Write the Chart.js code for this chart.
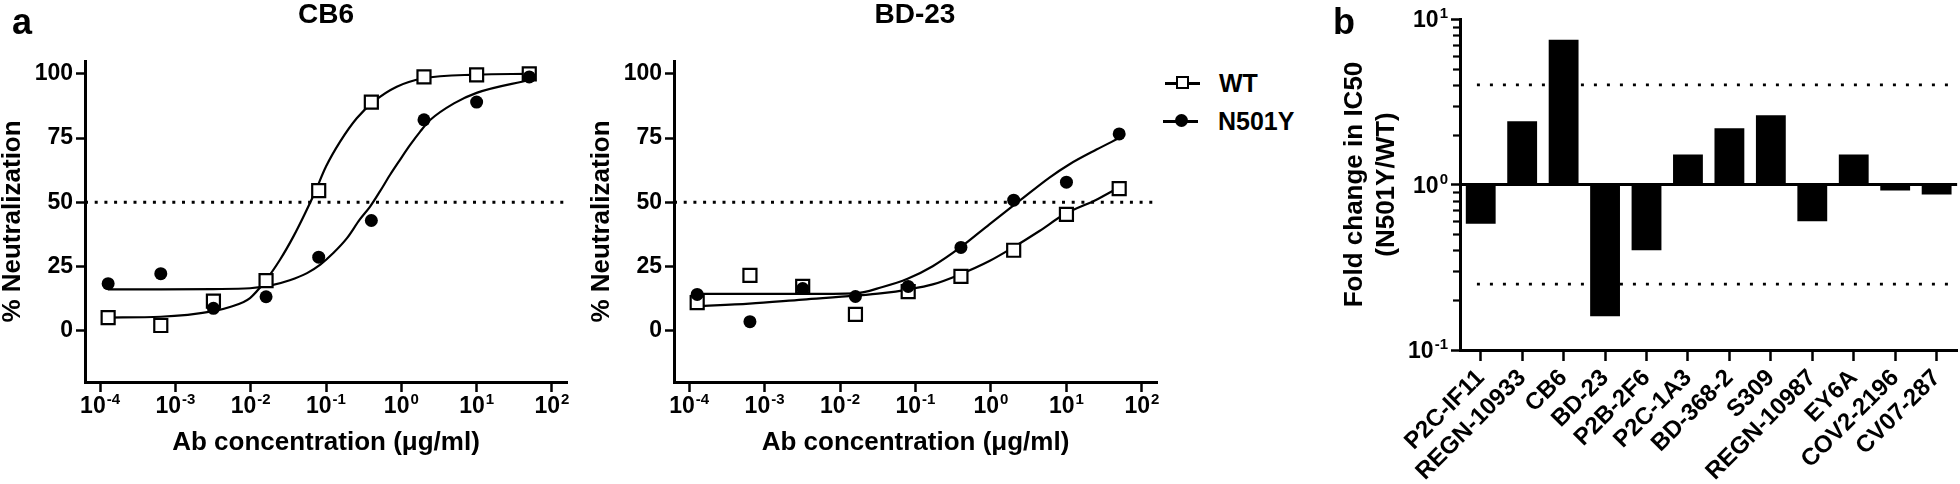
<!DOCTYPE html>
<html lang="en">
<head>
<meta charset="UTF-8">
<title>N501Y neutralization</title>
<script src="https://cdn.jsdelivr.net/npm/chart.js"></script>
<style>
  body { margin: 0; background: #fff; font-family: 'Liberation Sans', Arial, sans-serif; color: #000; }
  #page { position: relative; width: 1960px; height: 484px; overflow: hidden; }
  canvas { position: absolute; top: 0; }
  .lbl { position: absolute; font-weight: bold; white-space: nowrap; line-height: 1; }
  .panel { font-size: 36px; }
  .title { font-size: 28px; width: 200px; text-align: center; }
  .leg { font-size: 25px; }
  .legline { position: absolute; height: 2.5px; background: #000; }
  .legsq { position: absolute; width: 13px; height: 13px; box-sizing: border-box; border: 2.2px solid #000; background: #fff; }
  .legdot { position: absolute; width: 13px; height: 13px; border-radius: 50%; background: #000; }
</style>
</head>
<body>
<div id="page">
  <canvas id="cb6" width="600" height="484" style="left:0"></canvas>
  <canvas id="bd23" width="580" height="484" style="left:580px"></canvas>
  <canvas id="fold" width="660" height="484" style="left:1300px"></canvas>

  <div class="lbl panel" style="left:12px; top:4px">a</div>
  <div class="lbl panel" style="left:1333px; top:4px">b</div>
  <div class="lbl title" style="left:226px; top:0">CB6</div>
  <div class="lbl title" style="left:815px; top:0">BD-23</div>

  <div class="legline" style="left:1165px; top:82px; width:35px"></div>
  <div class="legsq" style="left:1176px; top:76px"></div>
  <div class="lbl leg" style="left:1219px; top:71px">WT</div>
  <div class="legline" style="left:1163px; top:120px; width:35px"></div>
  <div class="legdot" style="left:1175px; top:114px"></div>
  <div class="lbl leg" style="left:1218px; top:109px">N501Y</div>
</div>

<script>
// ---- data ----
const concentrations = [0.000128, 0.00064, 0.0032, 0.016, 0.08, 0.4, 2, 10, 50];

const cb6WT     = [5.1, 2.0, 11.5, 19.5, 54.5, 89.0, 98.8, 99.6, 100];
const cb6N501Y  = [18.3, 22.2, 8.7, 13.2, 28.6, 42.9, 82.1, 89.0, 98.8];
const bd23WT    = [10.9, 21.5, 17.2, 6.3, 15.2, 21.1, 31.3, 45.3, 55.3];
const bd23N501Y = [14.1, 3.5, 16.4, 13.3, 17.2, 32.4, 50.8, 57.8, 76.6];

// fitted curves
const cb6WTCurveX = [0.000128, 0.00064, 0.0032, 0.0053, 0.0098, 0.0155, 0.0245, 0.037, 0.053, 0.072, 0.10, 0.154, 0.256, 0.43, 0.87, 1.93, 10, 50];
const cb6WTCurveY = [5.1, 5.4, 7.6, 9.2, 12.7, 19.2, 27.6, 36.7, 45.8, 54.2, 63.9, 73.6, 82.7, 89.2, 95.0, 98.2, 99.7, 100];
const cb6MutCurveX = [0.000128, 0.00064, 0.0032, 0.0098, 0.018, 0.033, 0.056, 0.084, 0.125, 0.19, 0.28, 0.385, 0.52, 0.71, 0.96, 1.31, 1.78, 2.41, 5, 10, 50];
const cb6MutCurveY = [16.1, 16.1, 16.2, 16.5, 17.5, 19.6, 22.4, 25.7, 30.2, 36.0, 43.2, 48.3, 54.2, 60.7, 66.5, 72.3, 77.5, 82.0, 88.5, 92.6, 97.6];
const bd23WTCurveX = [0.000128, 0.00063, 0.0032, 0.0158, 0.0366, 0.0785, 0.169, 0.389, 0.953, 1.94, 4.39, 9.4, 25, 50];
const bd23WTCurveY = [9.5, 10.5, 12.1, 13.6, 14.6, 16.0, 18.0, 21.9, 27.1, 32.3, 38.8, 45.3, 51.0, 55.8];
const bd23MutCurveX = [0.000128, 0.0032, 0.0158, 0.0366, 0.0785, 0.169, 0.389, 0.953, 2.38, 5.96, 11.0, 25, 50];
const bd23MutCurveY = [14.3, 14.3, 14.5, 17.0, 20.2, 25.1, 32.3, 41.4, 50.5, 59.6, 64.8, 70.5, 75.0];

const neutralRef = 50;
const neutralTicks = [0, 25, 50, 75, 100];
const decadeTicks = [1e-4, 1e-3, 1e-2, 1e-1, 1, 10, 100];

const antibodies = ['P2C-IF11', 'REGN-10933', 'CB6', 'BD-23', 'P2B-2F6', 'P2C-1A3', 'BD-368-2', 'S309', 'REGN-10987', 'EY6A', 'COV2-2196', 'CV07-287'];
const foldChange = [0.58, 2.41, 7.5, 0.16, 0.40, 1.52, 2.19, 2.62, 0.60, 1.52, 0.92, 0.87];
const foldBase = 1;
const foldThresholds = [4, 0.25];
const foldTicks = [0.1, 1, 10];
const foldMinorTicks = [0.2, 0.3, 0.4, 0.5, 0.6, 0.7, 0.8, 0.9, 2, 3, 4, 5, 6, 7, 8, 9];

// ---- drawing ----
const FONT = "'Liberation Sans', Arial, sans-serif";
Chart.defaults.font.family = FONT;
Chart.defaults.color = '#000';

const pts = (xs, ys) => xs.map((x, i) => ({ x: x, y: ys[i] }));

// "10^n" labels with a raised exponent
const powerLabels = {
  id: 'powerLabels',
  afterDraw(chart, args, opts) {
    const scale = chart.scales[opts.axis];
    const ctx = chart.ctx;
    ctx.save();
    ctx.fillStyle = '#000';
    ctx.textBaseline = 'alphabetic';
    scale.ticks.forEach(t => {
      const exp = String(Math.round(Math.log10(t.value)));
      const p = scale.getPixelForValue(t.value);
      ctx.font = 'bold 23px ' + FONT;
      const w1 = ctx.measureText('10').width;
      ctx.font = 'bold 15px ' + FONT;
      const w2 = ctx.measureText(exp).width;
      let x0, base;
      if (scale.isHorizontal()) {
        x0 = p - (w1 + w2 + 1) / 2;
        base = opts.baseline;
      } else {
        x0 = opts.right - (w1 + w2 + 1);
        base = p + 8;
      }
      ctx.font = 'bold 23px ' + FONT;
      ctx.fillText('10', x0, base);
      ctx.font = 'bold 15px ' + FONT;
      ctx.fillText(exp, x0 + w1 + 1, base - 9);
    });
    ctx.restore();
  }
};

const minorTicks = {
  id: 'minorTicks',
  afterDraw(chart) {
    const scale = chart.scales.y;
    const ctx = chart.ctx;
    ctx.save();
    ctx.strokeStyle = '#000';
    ctx.lineWidth = 2.2;
    foldMinorTicks.forEach(v => {
      const y = Math.round(scale.getPixelForValue(v)) + 0.5;
      ctx.beginPath();
      ctx.moveTo(scale.right - 7, y);
      ctx.lineTo(scale.right, y);
      ctx.stroke();
    });
    ctx.restore();
  }
};

function neutralChart(id, wt, mut, wtCurve, mutCurve, yAxisWidth, padRight, yTitlePad) {
  const xMin = Math.pow(10, -4.2), xMax = Math.pow(10, 2.2);
  const curve = d => ({
    data: d, showLine: true, pointRadius: 0, borderColor: '#000', borderWidth: 2.2,
    cubicInterpolationMode: 'monotone', order: 2
  });
  return new Chart(document.getElementById(id), {
    type: 'scatter',
    data: {
      datasets: [
        { data: pts(concentrations, mut), pointStyle: 'circle', pointRadius: 6.5,
          backgroundColor: '#000', borderWidth: 0, order: 0 },
        { data: pts(concentrations, wt), pointStyle: 'rect', pointRadius: 9.2,
          backgroundColor: '#fff', borderColor: '#000', borderWidth: 2.2, order: 1 },
        curve(wtCurve),
        curve(mutCurve),
        { data: [{ x: xMin, y: neutralRef }, { x: xMax, y: neutralRef }], showLine: true,
          pointRadius: 0, borderColor: '#000', borderWidth: 2.8, borderDash: [3, 6.7], order: 3 }
      ]
    },
    options: {
      responsive: false,
      animation: false,
      devicePixelRatio: 1,
      events: [],
      layout: { autoPadding: false, padding: { left: 0, top: 61, right: padRight, bottom: 0 } },
      plugins: { legend: { display: false }, tooltip: { enabled: false }, powerLabels: { axis: 'x', baseline: 413 } },
      scales: {
        x: {
          type: 'logarithmic', min: xMin, max: xMax,
          afterBuildTicks: s => { s.ticks = decadeTicks.map(v => ({ value: v })); },
          afterFit: s => { s.height = 102; },
          ticks: { display: false },
          grid: { drawOnChartArea: false, tickLength: 10, tickWidth: 2.5, tickColor: '#000' },
          border: { width: 3, color: '#000' },
          title: { display: true, text: 'Ab concentration (\u03bcg/ml)', font: { size: 26, weight: 'bold', lineHeight: 1 },
                   padding: { top: 0, bottom: 28 } }
        },
        y: {
          min: -20, max: 105,
          afterBuildTicks: s => { s.ticks = neutralTicks.map(v => ({ value: v })); },
          afterFit: s => { s.width = yAxisWidth; },
          ticks: { font: { size: 23, weight: 'bold' }, padding: 3 },
          grid: { drawOnChartArea: false, tickLength: 9, tickWidth: 2.5, tickColor: '#000' },
          border: { width: 3, color: '#000' },
          title: { display: true, text: '% Neutralization', font: { size: 26, weight: 'bold', lineHeight: 1 },
                   padding: { top: yTitlePad, bottom: 0 } }
        }
      }
    },
    plugins: [powerLabels]
  });
}

neutralChart('cb6', cb6WT, cb6N501Y, pts(cb6WTCurveX, cb6WTCurveY), pts(cb6MutCurveX, cb6MutCurveY), 85, 33, 0);
neutralChart('bd23', bd23WT, bd23N501Y, pts(bd23WTCurveX, bd23WTCurveY), pts(bd23MutCurveX, bd23MutCurveY), 94, 3, 9);

new Chart(document.getElementById('fold'), {
  type: 'bar',
  data: {
    labels: antibodies,
    datasets: [
      { type: 'line', xAxisID: 'x2', yAxisID: 'y', data: [{ x: 0, y: foldBase }, { x: 1, y: foldBase }],
        borderColor: '#000', borderWidth: 3, pointRadius: 0, order: 0 },
      ...foldThresholds.map(v => ({
        type: 'line', xAxisID: 'x2', yAxisID: 'y', data: [{ x: 0.034, y: v }, { x: 1, y: v }],
        borderColor: '#000', borderWidth: 2.8, borderDash: [3, 10], pointRadius: 0, order: 0
      })),
      { xAxisID: 'x', yAxisID: 'y', data: foldChange.map(v => [foldBase, v]), backgroundColor: '#000',
        borderWidth: 0, grouped: false, barPercentage: 0.72, categoryPercentage: 1, order: 1 }
    ]
  },
  options: {
    responsive: false,
    animation: false,
    devicePixelRatio: 1,
    events: [],
    layout: { autoPadding: false, padding: { left: 0, top: 19, right: 0, bottom: 0 } },
    plugins: { legend: { display: false }, tooltip: { enabled: false }, powerLabels: { axis: 'y', right: 148 } },
    scales: {
      x: {
        type: 'category',
        afterFit: s => { s.height = 134; },
        ticks: { font: { size: 24, weight: 'bold' }, minRotation: 45, maxRotation: 45, autoSkip: false, padding: 3 },
        grid: { offset: false, drawOnChartArea: false, tickLength: 11, tickWidth: 2.5, tickColor: '#000' },
        border: { width: 3, color: '#000' }
      },
      x2: { type: 'linear', min: 0, max: 1, offset: false, grid: { offset: false }, display: false },
      y: {
        type: 'logarithmic', min: 0.1, max: 10,
        afterBuildTicks: s => { s.ticks = foldTicks.map(v => ({ value: v })); },
        afterFit: s => { s.width = 160; },
        ticks: { display: false },
        grid: { drawOnChartArea: false, tickLength: 9, tickWidth: 2.5, tickColor: '#000' },
        border: { width: 3, color: '#000' },
        title: { display: true, text: ['Fold change in IC50', '(N501Y/WT)'],
                 font: { size: 26, weight: 'bold', lineHeight: 1.23 }, padding: { top: 39, bottom: 0 } }
      }
    }
  },
  plugins: [powerLabels, minorTicks]
});
</script>
</body>
</html>
